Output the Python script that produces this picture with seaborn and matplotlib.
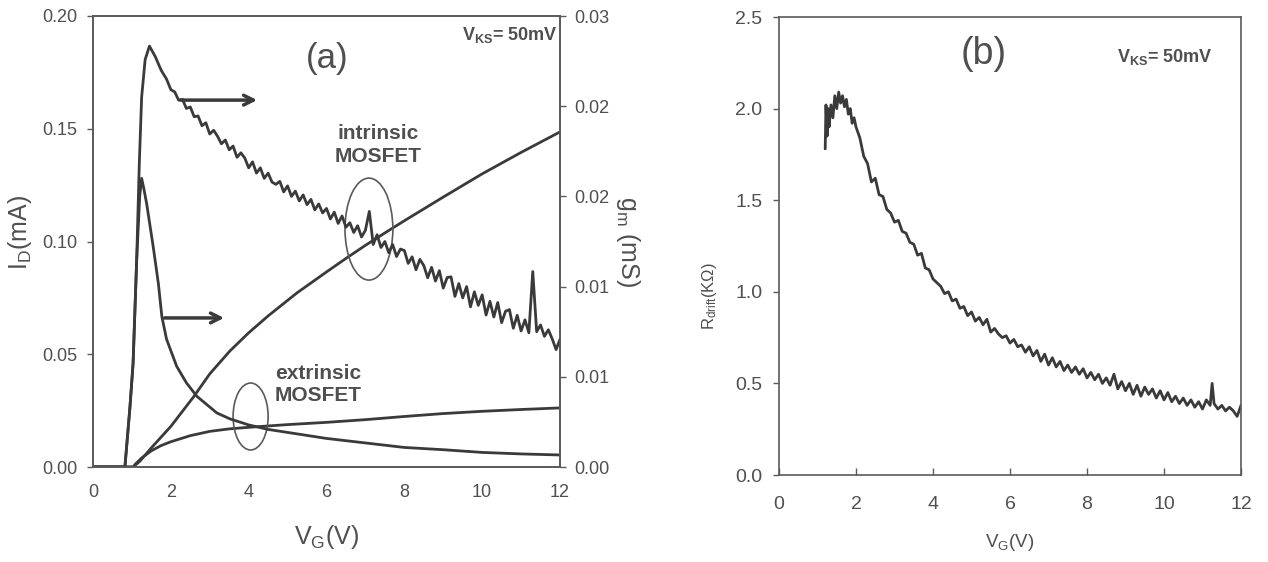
import matplotlib
matplotlib.use("Agg")
import matplotlib.pyplot as plt
import seaborn as sns
from matplotlib.patches import Ellipse

# ---------------- data ----------------
# (a) drain current, left axis (mA)
vg_id_int = [0.0, 1.03, 1.2, 1.5, 2.0, 2.58, 3.0, 3.52, 4.0, 4.5, 5.24, 6.0, 6.5,
             7.0, 7.5, 8.0, 9.0, 10.0, 11.0, 12.0]
id_int = [0.0, 0.0, 0.0025, 0.0085, 0.018, 0.031, 0.0413, 0.0515, 0.0595, 0.067,
          0.0772, 0.0865, 0.0925, 0.0983, 0.1038, 0.1092, 0.1197, 0.1300, 0.1395, 0.1486]

vg_id_ext = [0.0, 1.03, 1.1, 1.25, 1.5, 1.75, 2.0, 2.5, 3.0, 3.5, 4.0, 4.5, 5.0,
             6.0, 7.0, 8.0, 9.0, 10.0, 11.0, 12.0]
id_ext = [0.0, 0.0, 0.0015, 0.004, 0.0072, 0.0095, 0.0112, 0.0139, 0.0158, 0.0169,
          0.0176, 0.0182, 0.0188, 0.0198, 0.0210, 0.0224, 0.0237, 0.0247, 0.0255, 0.0262]

# (a) transconductance, right axis (mS)
vg_gm_int = [0.0, 0.82, 0.95, 1.03, 1.12, 1.19, 1.25, 1.34, 1.45, 1.6, 1.75, 1.89,
             2.0, 2.1, 2.2, 2.3, 2.4, 2.5, 2.6, 2.7, 2.8, 2.9,
             3.0, 3.1, 3.2, 3.3, 3.4, 3.5, 3.6, 3.7, 3.8, 3.9,
             4.0, 4.1, 4.2, 4.3, 4.4, 4.5, 4.6, 4.7, 4.8, 4.9,
             5.0, 5.1, 5.2, 5.3, 5.4, 5.5, 5.6, 5.7, 5.8, 5.9,
             6.0, 6.1, 6.2, 6.3, 6.4, 6.5, 6.6, 6.7, 6.8, 6.9,
             7.0, 7.1, 7.2, 7.3, 7.4, 7.5, 7.6, 7.7, 7.8, 7.9,
             8.0, 8.1, 8.2, 8.3, 8.4, 8.5, 8.6, 8.7, 8.8, 8.9,
             9.0, 9.1, 9.2, 9.3, 9.4, 9.5, 9.6, 9.7, 9.8, 9.9,
             10.0, 10.1, 10.2, 10.3, 10.4, 10.5, 10.6, 10.7, 10.8, 10.9,
             11.0, 11.1, 11.2, 11.3, 11.4, 11.5, 11.6, 11.7, 11.8, 11.9, 12.0]
gm_int = [0.0, 0.0, 0.004, 0.0069, 0.0136, 0.0202, 0.0246, 0.0271, 0.0280, 0.0273, 0.0264, 0.0258,
          0.02510, 0.02495, 0.02440, 0.02445, 0.02385, 0.02395, 0.02330, 0.02335, 0.02270, 0.02290,
          0.02215, 0.02240, 0.02200, 0.02150, 0.02175, 0.02110, 0.02135, 0.02060, 0.02090, 0.02055,
          0.01990, 0.02030, 0.01955, 0.01990, 0.01920, 0.01955, 0.01895, 0.01880, 0.01900, 0.01830,
          0.01870, 0.01800, 0.01835, 0.01770, 0.01810, 0.01745, 0.01780, 0.01710, 0.01750, 0.01690,
          0.01720, 0.01650, 0.01695, 0.01620, 0.01670, 0.01595, 0.01625, 0.01560, 0.01605, 0.01530,
          0.01575, 0.01700, 0.01480, 0.01545, 0.01460, 0.01500, 0.01425, 0.01480, 0.01400, 0.01450,
          0.01440, 0.01354, 0.01398, 0.01312, 0.01381, 0.01340, 0.01259, 0.01328, 0.01237, 0.01306,
          0.01190, 0.01260, 0.01265, 0.01135, 0.01220, 0.01125, 0.01200, 0.01065, 0.01165, 0.01075,
          0.01145, 0.01011, 0.01102, 0.00998, 0.01094, 0.00960, 0.01036, 0.01047, 0.00923, 0.01009,
          0.00905, 0.00979, 0.00893, 0.01300, 0.00900, 0.00945, 0.00869, 0.00913, 0.00852, 0.00781, 0.00850]

vg_gm_ext = [0.0, 0.82, 0.95, 1.03, 1.12, 1.2, 1.25, 1.3, 1.38, 1.55, 1.68, 1.77, 1.89,
             2.15, 2.4, 2.67, 3.18, 3.52, 4.0, 4.5, 5.0, 6.0, 7.0, 8.0, 9.0, 10.0, 11.0, 12.0]
gm_ext = [0.0, 0.0, 0.004, 0.0069, 0.0136, 0.0180, 0.0192, 0.0186, 0.0175, 0.0146, 0.0122, 0.0100, 0.0085,
          0.0067, 0.0056, 0.0047, 0.0036, 0.0032, 0.0028, 0.0025, 0.0023, 0.0019, 0.0016, 0.0013,
          0.00115, 0.00097, 0.00087, 0.0008]

id_ticks = [0.0, 0.05, 0.10, 0.15, 0.20]
id_ticklabels = ["0.00", "0.05", "0.10", "0.15", "0.20"]
gm_ticks = [0.0, 0.006, 0.012, 0.018, 0.024, 0.030]
gm_ticklabels = ["0.00", "0.01", "0.01", "0.02", "0.02", "0.03"]

# (b) drift resistance (kOhm)
vg_r = [1.2, 1.22, 1.25, 1.28, 1.3, 1.35, 1.4, 1.45, 1.5, 1.55, 1.6, 1.65, 1.7, 1.75, 1.8, 1.85, 1.9, 1.95,
        2.0, 2.1, 2.2, 2.3, 2.4, 2.5, 2.6, 2.7, 2.8, 2.9,
        3.0, 3.1, 3.2, 3.3, 3.4, 3.5, 3.6, 3.7, 3.8, 3.9,
        4.0, 4.1, 4.2, 4.3, 4.4, 4.5, 4.6, 4.7, 4.8, 4.9,
        5.0, 5.1, 5.2, 5.3, 5.4, 5.5, 5.6, 5.7, 5.8, 5.9,
        6.0, 6.1, 6.2, 6.3, 6.4, 6.5, 6.6, 6.7, 6.8, 6.9,
        7.0, 7.1, 7.2, 7.3, 7.4, 7.5, 7.6, 7.7, 7.8, 7.9,
        8.0, 8.1, 8.2, 8.3, 8.4, 8.5, 8.6, 8.7, 8.8, 8.9,
        9.0, 9.1, 9.2, 9.3, 9.4, 9.5, 9.6, 9.7, 9.8, 9.9,
        10.0, 10.1, 10.2, 10.3, 10.4, 10.5, 10.6, 10.7, 10.8, 10.9,
        11.0, 11.1, 11.2, 11.25, 11.3, 11.4, 11.5, 11.6, 11.7, 11.8, 11.9, 12.0]
r_drift = [1.78, 2.02, 1.85, 2.00, 1.90, 2.02, 1.95, 2.07, 2.00, 2.09, 2.03, 2.07, 2.01, 2.05, 1.97, 2.00, 1.92, 1.95,
           1.90, 1.84, 1.74, 1.70, 1.60, 1.62, 1.53, 1.52, 1.45, 1.43,
           1.38, 1.39, 1.33, 1.32, 1.27, 1.26, 1.20, 1.21, 1.13, 1.12,
           1.07, 1.05, 1.03, 0.99, 1.00, 0.95, 0.96, 0.91, 0.92, 0.87,
           0.89, 0.84, 0.86, 0.82, 0.85, 0.78, 0.80, 0.77, 0.75, 0.76,
           0.72, 0.74, 0.70, 0.71, 0.67, 0.70, 0.65, 0.68, 0.62, 0.66,
           0.60, 0.64, 0.59, 0.62, 0.57, 0.60, 0.56, 0.59, 0.55, 0.58,
           0.53, 0.56, 0.52, 0.55, 0.50, 0.53, 0.49, 0.55, 0.47, 0.51,
           0.46, 0.50, 0.44, 0.49, 0.43, 0.48, 0.44, 0.47, 0.42, 0.46,
           0.41, 0.45, 0.40, 0.43, 0.39, 0.42, 0.38, 0.41, 0.37, 0.40,
           0.36, 0.41, 0.38, 0.50, 0.39, 0.36, 0.38, 0.35, 0.37, 0.35, 0.32, 0.38]

vg_ticks = [0, 2, 4, 6, 8, 10, 12]
r_ticks = [0.0, 0.5, 1.0, 1.5, 2.0, 2.5]
r_ticklabels = ["0.0", "0.5", "1.0", "1.5", "2.0", "2.5"]

# ---------------- style ----------------
sns.set_style("white")
plt.rcParams['font.family'] = ['Liberation Sans', 'DejaVu Sans']
plt.rcParams['mathtext.fontset'] = 'custom'
plt.rcParams['mathtext.rm'] = 'Liberation Sans'
plt.rcParams['mathtext.bf'] = 'Liberation Sans:bold'
plt.rcParams['mathtext.default'] = 'regular'

LC = '#3a3a3a'     # curves
AC = '#5a5a5a'     # axes / ticks
TC = '#4f4f4f'     # text
W, H = 1268, 562

fig = plt.figure(figsize=(W / 100, H / 100), dpi=100)
ax1 = fig.add_axes([93 / W, 1 - 467 / H, (560 - 93) / W, (467 - 16) / H])
ax1r = ax1.twinx()
ax2 = fig.add_axes([779 / W, 1 - 475 / H, (1241 - 779) / W, (475 - 17) / H])

# ---------------- panel (a) ----------------
sns.lineplot(x=vg_id_int, y=id_int, ax=ax1, color=LC, lw=2.0)
sns.lineplot(x=vg_id_ext, y=id_ext, ax=ax1, color=LC, lw=2.0)
sns.lineplot(x=vg_gm_int, y=gm_int, ax=ax1r, color=LC, lw=2.0)
sns.lineplot(x=vg_gm_ext, y=gm_ext, ax=ax1r, color=LC, lw=2.0)

ax1.set_xlim(0, 12)
ax1.set_ylim(0, 0.2)
ax1r.set_ylim(0, 0.03)
ax1.set_xticks(vg_ticks)
ax1.set_yticks(id_ticks)
ax1.set_yticklabels(id_ticklabels)
ax1r.set_yticks(gm_ticks)
ax1r.set_yticklabels(gm_ticklabels)

ax1.tick_params(axis='x', direction='in', length=5, width=1, color=AC, labelsize=13,
                labelcolor=TC, pad=12, top=False)
ax1.tick_params(axis='y', direction='out', length=4, width=1, color=AC, labelsize=13,
                labelcolor=TC, pad=7, left=True)
ax1r.tick_params(axis='y', direction='out', length=4, width=1, color=AC, labelsize=13,
                 labelcolor=TC, pad=6, right=True)

ax1.set_xlabel(r"V$_\mathrm{G}$(V)", fontsize=18, color=TC, labelpad=16)
ax1.set_ylabel(r"I$_\mathrm{D}$(mA)", fontsize=18, color=TC, labelpad=6, y=0.52)
ax1r.set_ylabel(r"g$_\mathrm{m}$ (mS)", fontsize=18, color=TC, rotation=270, labelpad=24)

for a in (ax1, ax1r):
    for s in a.spines.values():
        s.set_color(AC)
        s.set_linewidth(1.2)

ax1.text(6.03, 0.181, "(a)", fontsize=25, ha='center', va='center', color=TC)
ax1.text(11.95, 0.1894, r"V$_\mathregular{KS}$= 50mV", fontsize=13, fontweight='bold',
         ha='right', va='baseline', color=TC)
ax1.text(7.32, 0.1428, "intrinsic\nMOSFET", fontsize=15, fontweight='bold', ha='center',
         va='center', color=TC, linespacing=1.25)
ax1.text(5.78, 0.0366, "extrinsic\nMOSFET", fontsize=15, fontweight='bold', ha='center',
         va='center', color=TC, linespacing=1.25)

ax1.add_patch(Ellipse((7.09, 0.1055), 1.23, 0.0452, fill=False, ec=AC, lw=1.2, zorder=5))
ax1.add_patch(Ellipse((4.05, 0.0224), 0.90, 0.0297, fill=False, ec=AC, lw=1.2, zorder=5))

arrow = dict(arrowstyle='->,head_length=0.7,head_width=0.35', lw=2.5, color=LC)
ax1.annotate("", xy=(4.29, 0.1627), xytext=(2.18, 0.1627), arrowprops=arrow)
ax1.annotate("", xy=(3.44, 0.0661), xytext=(1.77, 0.0661), arrowprops=arrow)

# ---------------- panel (b) ----------------
sns.lineplot(x=vg_r, y=r_drift, ax=ax2, color=LC, lw=2.0)
ax2.set_xlim(0, 12)
ax2.set_ylim(0, 2.5)
ax2.set_xticks(vg_ticks)
ax2.set_yticks(r_ticks)
ax2.set_yticklabels(r_ticklabels)
ax2.tick_params(axis='x', direction='in', length=5, width=1, color=AC, labelsize=14,
                labelcolor=TC, pad=15, bottom=True)
ax2.tick_params(axis='y', direction='out', length=4, width=1, color=AC, labelsize=14,
                labelcolor=TC, pad=8, left=True)
ax2.set_xlabel(r"V$_\mathrm{G}$(V)", fontsize=13.5, color=TC, labelpad=14)
ax2.set_ylabel(r"R$_\mathrm{drift}$(KΩ)", fontsize=12, color=TC, labelpad=12, y=0.39)
for s in ax2.spines.values():
    s.set_color(AC)
    s.set_linewidth(1.2)

ax2.text(5.32, 2.30, "(b)", fontsize=27, ha='center', va='center', color=TC)
ax2.text(11.27, 2.254, r"V$_\mathregular{KS}$= 50mV", fontsize=13, fontweight='bold',
         ha='right', va='baseline', color=TC)

fig.savefig("out.png", dpi=100)
